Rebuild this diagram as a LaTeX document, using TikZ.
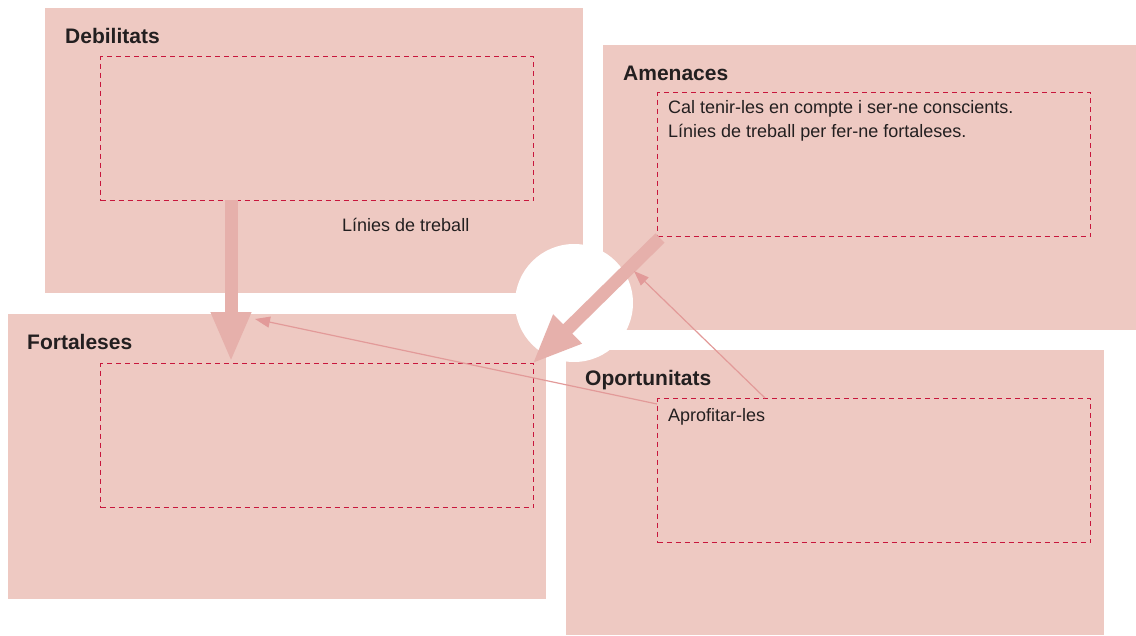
\documentclass[tikz,border=0pt]{standalone}
\usepackage{fontspec}
\setmainfont{Liberation Sans}
\usetikzlibrary{arrows.meta,positioning}

\definecolor{swotpink}{HTML}{EEC9C2}
\definecolor{swotdash}{HTML}{C8163C}
\definecolor{swotarrow}{HTML}{E6B0AB}
\definecolor{swotthin}{HTML}{E29A99}
\definecolor{swotink}{HTML}{231F20}

\tikzset{
	quadrant/.style={fill=swotpink, anchor=north west, inner sep=0pt, minimum width=538pt, minimum height=285pt},
	workarea/.style={draw=swotdash, dash pattern=on 5pt off 4pt, line width=1.4pt, anchor=north west, inner sep=0pt, minimum width=433pt, minimum height=144pt},
	heading/.style={anchor=base west, inner sep=0pt, text=swotink, font=\fontsize{21}{25}\selectfont\bfseries},
	note/.style={anchor=base west, inner sep=0pt, align=left, text=swotink, font=\fontsize{18}{24}\selectfont},
	bigarrow/.style={swotarrow, line width=13pt, -{Triangle[length=50pt,width=37pt]}},
	thinarrow/.style={swotthin, line width=1.2pt, -{Triangle[length=15pt,width=11pt]}}
}

\begin{document}
\begin{tikzpicture}[x=1pt,y=-1pt]
	\useasboundingbox (0,0) rectangle (1136,635);

	\node[quadrant] (debilitats) at (45,8) {};
	\node[quadrant] (amenaces) at (603,45) {};
	\node[quadrant] (fortaleses) at (8,314) {};
	\node[quadrant] (oportunitats) at (566,350) {};

	\node[circle, fill=white, minimum size=118pt, inner sep=0pt] (hub) at (574,303) {};

	\node[workarea] (debwork) at (100,56) {};
	\node[workarea] (amenwork) at (657,92) {};
	\node[workarea] (fortwork) at (100,363) {};
	\node[workarea] (oppwork) at (657,398) {};

	\node[heading] (debtitle) at (65,43) {Debilitats};
	\node[heading] (amentitle) at (623,80) {Amenaces};
	\node[heading] (forttitle) at (27,349) {Fortaleses};
	\node[heading] (opptitle) at (585,385) {Oportunitats};

	\node[note] (debtext) at (342,231) {Línies de treball};
	% base of a two-line node sits on its last line
	\node[note] (amentext) at (668,137) {Cal tenir-les en compte i ser-ne conscients.\\Línies de treball per fer-ne fortaleses.};
	\node[note] (opptext) at (668,421) {Aprofitar-les};

	% connectors
	\coordinate (debout) at (231,200);
	\coordinate (fortin) at (231,362);
	\coordinate (amenout) at (660,238);
	\coordinate (fortcorner) at (532,364);
	\coordinate (oppleft) at (657,404);
	\coordinate (opptop) at (765,398);
	\coordinate (fortside) at (255,319);
	\coordinate (amenside) at (634,271);

	\draw[bigarrow] (debout) -- (fortin);
	\draw[bigarrow] (amenout) -- (fortcorner);
	\draw[thinarrow] (oppleft) -- (fortside);
	\draw[thinarrow] (opptop) -- (amenside);

\end{tikzpicture}
\end{document}
